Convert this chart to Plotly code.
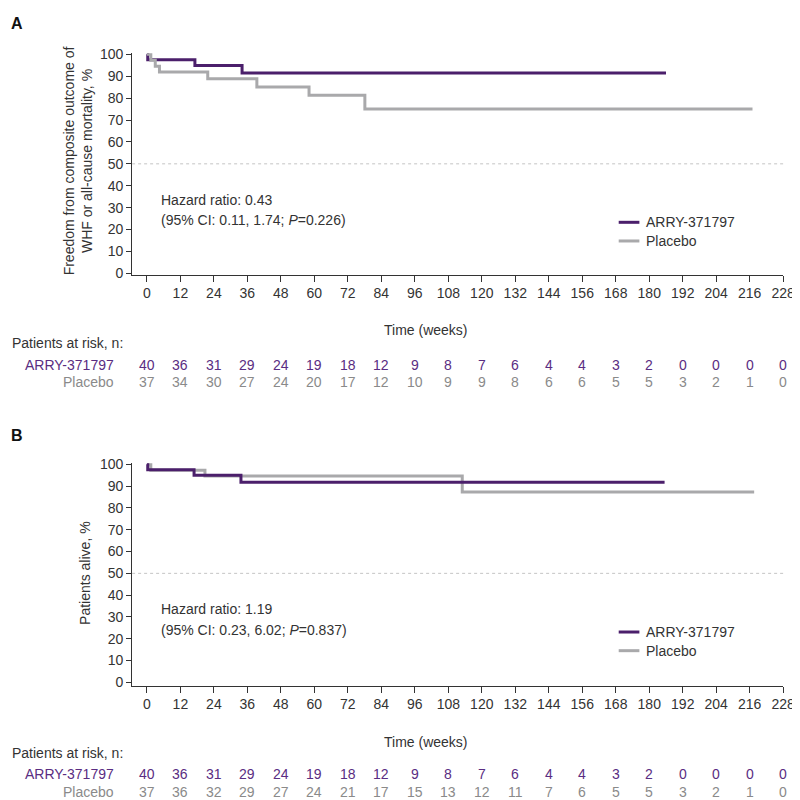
import plotly.graph_objects as go

# ---------------- data ----------------
weeks = list(range(0, 229, 12))
yticks = list(range(0, 101, 10))

# Panel A: freedom from WHF or all-cause mortality (%)
a_arry_t = [0, 0.3, 17.2, 34.1, 186]
a_arry_s = [100, 97.5, 94.9, 91.5, 91.5]
a_plac_t = [0, 1.4, 3.0, 4.5, 21.8, 39.4, 58.1, 78.1, 217]
a_plac_s = [100, 97.3, 94.6, 91.9, 88.8, 85.1, 81.3, 75.0, 75.0]

# Panel B: patients alive (%)
b_arry_t = [0, 0.3, 16.9, 33.7, 185.5]
b_arry_s = [100, 97.5, 95.0, 91.8, 91.8]
b_plac_t = [0, 1.4, 20.8, 113.0, 217.6]
b_plac_s = [100, 97.3, 94.6, 87.3, 87.3]

# Patients at risk
risk_a_arry = [40, 36, 31, 29, 24, 19, 18, 12, 9, 8, 7, 6, 4, 4, 3, 2, 0, 0, 0, 0]
risk_a_plac = [37, 34, 30, 27, 24, 20, 17, 12, 10, 9, 9, 8, 6, 6, 5, 5, 3, 2, 1, 0]
risk_b_arry = [40, 36, 31, 29, 24, 19, 18, 12, 9, 8, 7, 6, 4, 4, 3, 2, 0, 0, 0, 0]
risk_b_plac = [37, 36, 32, 29, 27, 24, 21, 17, 15, 13, 12, 11, 7, 6, 5, 5, 3, 2, 1, 0]

series_names = ["ARRY-371797", "Placebo"]
hr_text_a = ["Hazard ratio: 0.43", "(95% CI: 0.11, 1.74; <i>P</i>=0.226)"]
hr_text_b = ["Hazard ratio: 1.19", "(95% CI: 0.23, 6.02; <i>P</i>=0.837)"]

# ---------------- style ----------------
W = H = 800
PURPLE = "#4b1f6b"
PURPLE_TXT = "#5a2d82"
GREY = "#a9a9ab"
GREY_TXT = "#8a8a8a"
TXT = "#333333"
FONT = "Liberation Sans, Arial, Helvetica, sans-serif"
FS = 14


def fx(p):
    return p / W


def fy(p):
    return 1 - p / H


fig = go.Figure()
for t, s, c, xa, ya in [
    (a_arry_t, a_arry_s, PURPLE, "x", "y"),
    (a_plac_t, a_plac_s, GREY, "x", "y"),
    (b_plac_t, b_plac_s, GREY, "x2", "y2"),
    (b_arry_t, b_arry_s, PURPLE, "x2", "y2"),
]:
    fig.add_trace(go.Scatter(x=t, y=s, mode="lines", xaxis=xa, yaxis=ya,
                             line=dict(shape="hv", color=c, width=3),
                             showlegend=False, hoverinfo="skip"))

xdom = [fx(126), fx(787)]
xrange_ = [-5.3, 228]
ax_common = dict(showline=True, linecolor=TXT, linewidth=1, ticks="outside",
                 tickcolor=TXT, showgrid=False, zeroline=False,
                 tickfont=dict(family=FONT, size=FS, color=TXT))

fig.update_layout(
    width=W, height=H, margin=dict(l=0, r=0, t=0, b=0),
    plot_bgcolor="white", paper_bgcolor="white",
    font=dict(family=FONT, size=FS, color=TXT),
    xaxis=dict(domain=xdom, range=xrange_, tickvals=weeks, ticklen=6,
               anchor="y", **ax_common),
    yaxis=dict(domain=[fy(264.3), fy(38.9)], range=[-0.6, 100.5], tickvals=yticks,
               ticklen=5, anchor="x", **ax_common),
    xaxis2=dict(domain=xdom, range=xrange_, tickvals=weeks, ticklen=6,
                anchor="y2", **ax_common),
    yaxis2=dict(domain=[fy(682.6), fy(456.2)], range=[-1.5, 100.5], tickvals=yticks,
                ticklen=5, anchor="x2", **ax_common),
)

# 50% reference lines
for xr, yr in [("x domain", "y"), ("x2 domain", "y2")]:
    fig.add_shape(type="line", xref=xr, yref=yr, x0=0, x1=1, y0=50, y1=50,
                  line=dict(color="#c4c4c4", width=1, dash="dot"), layer="below")

ann = []


def text(x, y, s, size=FS, color=TXT, xanchor="left", xref="paper", **kw):
    ann.append(dict(x=x, y=y, xref=xref, yref="paper", text=s, showarrow=False,
                    xanchor=xanchor, yanchor="middle",
                    font=dict(family=FONT, size=size, color=color), **kw))


# panel letters
text(fx(1), fy(9), "<b>A</b>", size=16, color="#111")
text(fx(1), fy(428), "<b>B</b>", size=16, color="#111")

# y-axis titles
text(fx(71), fy(148), "Freedom from composite outcome of<br>WHF or all-cause mortality, %",
     xanchor="center", textangle=-90)
text(fx(78), fy(568), "Patients alive, %", xanchor="center", textangle=-90)

# x-axis titles
text(fx(424), fy(321), "Time (weeks)", xanchor="center")
text(fx(424), fy(740), "Time (weeks)", xanchor="center")

# hazard ratio annotations
for lines, y0 in [(hr_text_a, 188), (hr_text_b, 605)]:
    text(fx(153), fy(y0), lines[0])
    text(fx(153), fy(y0 + 21), lines[1])

# legends (manual)
for y0 in [211, 628]:
    for i, (nm, col) in enumerate(zip(series_names, [PURPLE, GREY])):
        yy = y0 + 19 * i
        fig.add_shape(type="line", xref="paper", yref="paper", x0=fx(620), x1=fx(641),
                      y0=fy(yy), y1=fy(yy), line=dict(color=col, width=3))
        text(fx(646), fy(yy), nm)

# at-risk tables
for xr, top, r_arry, r_plac in [("x", 334, risk_a_arry, risk_a_plac),
                                ("x2", 751, risk_b_arry, risk_b_plac)]:
    text(fx(2), fy(top), "Patients at risk, n:")
    text(fx(110), fy(top + 22), series_names[0], color=PURPLE_TXT, xanchor="right")
    text(fx(110), fy(top + 40), series_names[1], color=GREY_TXT, xanchor="right")
    for wk, n1, n2 in zip(weeks, r_arry, r_plac):
        text(wk, fy(top + 22), str(n1), color=PURPLE_TXT, xanchor="center", xref=xr)
        text(wk, fy(top + 40), str(n2), color=GREY_TXT, xanchor="center", xref=xr)

fig.update_layout(annotations=ann)
fig.write_html("out.html")
